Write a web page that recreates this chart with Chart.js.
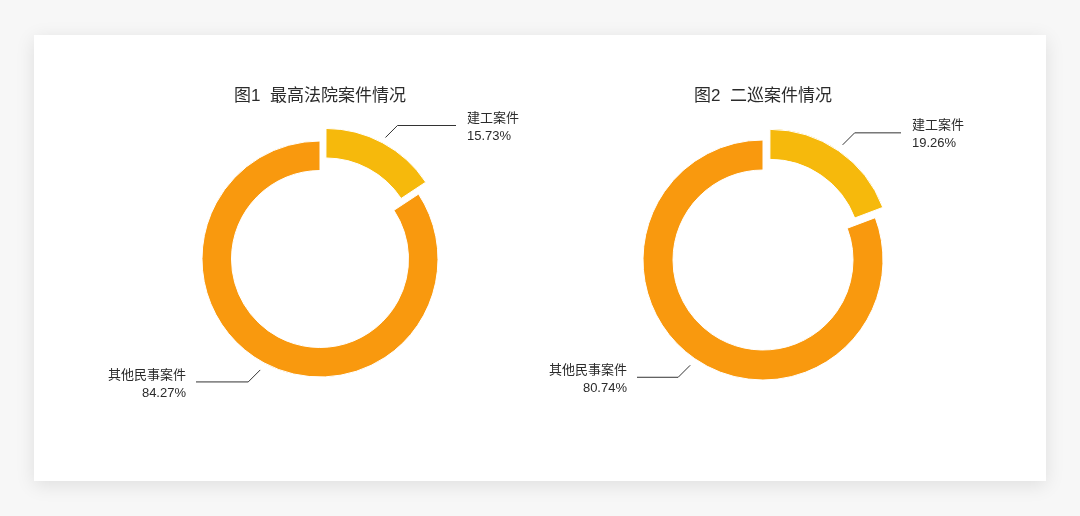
<!DOCTYPE html>
<html>
<head>
<meta charset="utf-8">
<script src="https://cdn.jsdelivr.net/npm/chart.js@4/dist/chart.umd.min.js"></script>
<style>
  html, body { margin: 0; padding: 0; }
  body { width: 1080px; height: 516px; background: #f7f7f7; position: relative; overflow: hidden; }
  #card { position: absolute; left: 34px; top: 35px; width: 1012px; height: 446px; background: #fff;
          box-shadow: 0 4px 18px rgba(0,0,0,0.10); }
  .box { position: absolute; top: 0; height: 516px; }
  #box1 { left: 0; width: 530px; }
  #box2 { left: 530px; width: 550px; }
</style>
</head>
<body>
<div id="card"></div>
<div class="box" id="box1"><canvas id="chart1"></canvas></div>
<div class="box" id="box2"><canvas id="chart2"></canvas></div>
<script>
'use strict';
var categories = ['建工案件', '其他民事案件'];
var chart1Values = [15.73, 84.27];
var chart2Values = [19.26, 80.74];
var titles = ['图1  最高法院案件情况', '图2  二巡案件情况'];
var colors = ['#F6B90C', '#F9990E'];

var FONT = "'Liberation Sans', 'Noto Sans CJK SC', sans-serif";
var EXPLODE = 12; // px the first slice is pulled out (chart.js moves arcs by offset/4)

// leader lines + two-line labels, and the title above the ring
var labelPlugin = {
  id: 'leaderLabels',
  afterDatasetsDraw: function(chart, args, opts) {
    var ctx = chart.ctx;
    var meta = chart.getDatasetMeta(0);
    var ds = chart.data.datasets[0];
    var cx = meta.data[0].x;
    var cy = meta.data[0].y;
    var R = meta.data[0].outerRadius;

    ctx.save();
    ctx.fillStyle = '#2b2b2b';
    ctx.font = '17px ' + FONT;
    ctx.textAlign = 'center';
    ctx.textBaseline = 'middle';
    ctx.fillText(opts.title, cx, 96);

    meta.data.forEach(function(arc, i) {
      var mid = (arc.startAngle + arc.endAngle) / 2;
      var off = ((ds.offset && ds.offset[i]) || 0) / 4;
      var d = R + off + 8;
      var x0 = cx + Math.cos(mid) * d;
      var y0 = cy + Math.sin(mid) * d;
      var right = Math.cos(mid) >= 0;
      var sy = Math.sin(mid) >= 0 ? 1 : -1;
      var x1 = x0 + (right ? 12 : -12);
      var y1 = y0 + sy * 12;
      var x2 = right ? cx + R + 18 : cx - R - 6;

      ctx.strokeStyle = '#333';
      ctx.lineWidth = 1;
      ctx.beginPath();
      ctx.moveTo(x0, y0);
      ctx.lineTo(x1, y1);
      ctx.lineTo(x2, y1);
      ctx.stroke();

      ctx.font = '13px ' + FONT;
      ctx.fillStyle = '#2b2b2b';
      ctx.textBaseline = 'middle';
      ctx.textAlign = right ? 'left' : 'right';
      var tx = right ? x2 + 11 : x2 - 10;
      ctx.fillText(chart.data.labels[i], tx, y1 - 7);
      ctx.fillText(ds.data[i].toFixed(2) + '%', tx, y1 + 11);
    });
    ctx.restore();
  }
};

function makeChart(id, values, title, pad) {
  return new Chart(document.getElementById(id), {
    type: 'doughnut',
    data: {
      labels: categories,
      datasets: [{
        data: values,
        backgroundColor: colors,
        borderColor: '#fff',
        borderWidth: 1,
        offset: [EXPLODE * 4, 0]
      }]
    },
    options: {
      responsive: true,
      maintainAspectRatio: false,
      animation: false,
      events: [],
      cutout: '75%',
      layout: { padding: pad },
      plugins: {
        legend: { display: false },
        tooltip: { enabled: false },
        leaderLabels: { title: title }
      }
    },
    plugins: [labelPlugin]
  });
}

makeChart('chart1', chart1Values, titles[0], { left: 177.5, right: 67.5, top: 116.5, bottom: 114.5 });
makeChart('chart2', chart2Values, titles[1], { left: 88.5, right: 172.5, top: 115.5, bottom: 111.5 });
</script>
</body>
</html>
